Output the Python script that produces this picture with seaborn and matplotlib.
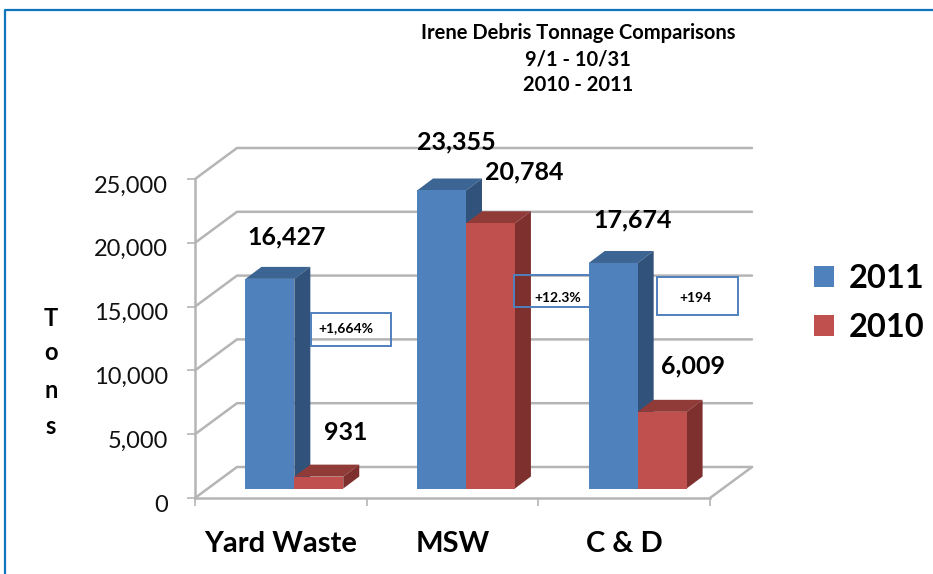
import matplotlib
matplotlib.use("Agg")
import matplotlib.pyplot as plt
import pandas as pd
import seaborn as sns
from matplotlib.lines import Line2D
from matplotlib.patches import Polygon, Rectangle
from matplotlib.transforms import Affine2D, IdentityTransform

categories = ["Yard Waste", "MSW", "C & D"]
values_2011 = [16427, 23355, 17674]
values_2010 = [931, 20784, 6009]
y_ticks = [0, 5000, 10000, 15000, 20000, 25000]
title_lines = ["Irene Debris Tonnage Comparisons", "9/1 - 10/31", "2010 - 2011"]
callouts = ["+1,664%", "+12.3%", "+194"]

W, H = 933, 574
BLUE = "#4F81BD"
RED = "#C0504D"
SHADES = {BLUE: ("#3D6593", "#31527B"), RED: ("#913B39", "#7E302E")}
GRID = "#B5B5B5"
FRAME = "#0F75BD"
WALL = (42, 31)   # depth of the back wall, px
BAR_SHIFT = (13.5, 9.5)
BAR_DEPTH = (16, 12)


def px(x, y):
    # reference pixel (y down) to display coords (y up)
    return x, H - y


sns.set_theme(style="white")
plt.rcParams["font.family"] = ["Lato", "DejaVu Sans"]

fig = plt.figure(figsize=(W / 100, H / 100), dpi=100)
ax = fig.add_axes([195 / W, 1 - 498 / H, 515 / W, 319 / H])

df = pd.DataFrame({
    "category": categories * 2,
    "year": ["2011"] * 3 + ["2010"] * 3,
    "tons": values_2011 + values_2010,
})
sns.barplot(data=df, x="category", y="tons", hue="year", hue_order=["2011", "2010"],
            palette={"2011": BLUE, "2010": RED}, width=0.57, gap=0, saturation=1,
            errorbar=None, linewidth=0, ax=ax)
ax.set_xlim(-0.5, 2.5)
ax.set_ylim(0, 25000)
ax.set_xlabel("")
ax.set_ylabel("")

# axis lines and ticks
sns.despine(ax=ax)
for side in ["left", "bottom"]:
    ax.spines[side].set_color(GRID)
    ax.spines[side].set_linewidth(1.8)
ax.set_yticks(y_ticks)
ax.set_yticklabels([f"{v:,}" for v in y_ticks], fontsize=17, color="#111111")
ax.tick_params(axis="y", left=True, length=6, width=1.2, color=GRID, pad=13.5)
for label in ax.get_yticklabels():
    label.set_transform(label.get_transform() + Affine2D().translate(0, -5))
ax.set_xticks([0, 1, 2])
ax.set_xticklabels(categories, fontsize=21, fontweight="bold", color="black")
ax.set_xticks([-0.5, 0.5, 1.5, 2.5], minor=True)
ax.tick_params(axis="x", which="major", bottom=False, pad=18)
ax.tick_params(axis="x", which="minor", bottom=True, length=6, width=1.2, color=GRID)

# walls and floor of the 3D box
ident = IdentityTransform()
x_left, x_right = ax.get_window_extent().x0, ax.get_window_extent().x1
for v in y_ticks:
    y0 = ax.transData.transform((0, v))[1]
    ax.add_line(Line2D([x_left, x_left + WALL[0], x_right + WALL[0]],
                       [y0, y0 + WALL[1], y0 + WALL[1]],
                       transform=ident, color=GRID, lw=1.8, zorder=1, clip_on=False))
y0 = ax.transData.transform((0, 0))[1]
ax.add_line(Line2D([x_right, x_right + WALL[0]], [y0, y0 + WALL[1]],
                   transform=ident, color=GRID, lw=1.8, zorder=1, clip_on=False))

# turn the flat bars into boxes
shift = Affine2D().translate(*BAR_SHIFT)
bars = [p for p in ax.patches if isinstance(p, Rectangle)]
for i, bar in enumerate(bars):
    cat, hue = i % 3, i // 3
    z = 3 + 3 * cat + hue
    color = BLUE if hue == 0 else RED
    top, side = SHADES[color]
    bar.set_transform(ax.transData + shift)
    bar.set_zorder(z + 0.5)
    bar.set_clip_on(False)
    (x0, y0), (x1, y1) = (ax.transData + shift).transform(
        [(bar.get_x(), 0), (bar.get_x() + bar.get_width(), bar.get_height())])
    dx, dy = BAR_DEPTH
    ax.add_patch(Polygon([(x0, y1), (x1, y1), (x1 + dx, y1 + dy), (x0 + dx, y1 + dy)],
                         transform=ident, fc=top, ec="none", zorder=z, clip_on=False))
    ax.add_patch(Polygon([(x1, y0), (x1 + dx, y0 + dy), (x1 + dx, y1 + dy), (x1, y1)],
                         transform=ident, fc=side, ec="none", zorder=z, clip_on=False))

# callout boxes, unfilled; the middle one sits behind the C & D bar
boxes = [(311, 313, 391, 346, 5), (514, 275, 590, 307, 8), (657, 277, 738, 315, 12)]
text_pos = [(346, 328), (558, 298), (695, 298)]
for (l, t, r, b, z), label, (tx, ty) in zip(boxes, callouts, text_pos):
    ax.add_patch(Rectangle(px(l, b), r - l, b - t, transform=ident, fc="none", ec=BLUE,
                           lw=1.4, zorder=z, clip_on=False))
    ax.text(*px(tx, ty), label, transform=ident, ha="center", va="center", fontsize=10,
            fontweight="bold", color="black", zorder=20)

# value labels
value_pos = [(287, 237), (456, 142), (633, 220), (346, 432), (524, 172), (693, 366)]
for v, (tx, ty) in zip(values_2011 + values_2010, value_pos):
    ax.text(*px(tx, ty), f"{v:,}", transform=ident, ha="center", va="center", fontsize=18,
            fontweight="bold", color="black", zorder=20)

# title
for line, ty in zip(title_lines, [33, 59, 85]):
    ax.text(*px(578, ty), line, transform=ident, ha="center", va="center", fontsize=14.5,
            fontweight="bold", color="black", zorder=20)

# stacked y label
for ch, ty in zip("Tons", [318, 353, 390, 426]):
    ax.text(*px(51, ty), ch, transform=ident, ha="center", va="center", fontsize=17,
            fontweight="bold", color="black", zorder=20)

# legend
handles, labels = ax.get_legend_handles_labels()
ax.legend(handles, labels, loc="center left", bbox_to_anchor=(814 / W, 1 - 303 / H),
          bbox_transform=fig.transFigure, frameon=False, borderpad=0, borderaxespad=0,
          handlelength=0.62, handleheight=0.62, handletextpad=0.46, labelspacing=0.6,
          labelcolor="black", prop={"family": "Lato", "weight": "bold", "size": 23.5})

# outer frame, open to the right and bottom
fig.add_artist(Line2D([5 / W, 5 / W, 1], [0, 1 - 10 / H, 1 - 10 / H], color=FRAME, lw=1.6))

fig.savefig("out.png", dpi=100)
